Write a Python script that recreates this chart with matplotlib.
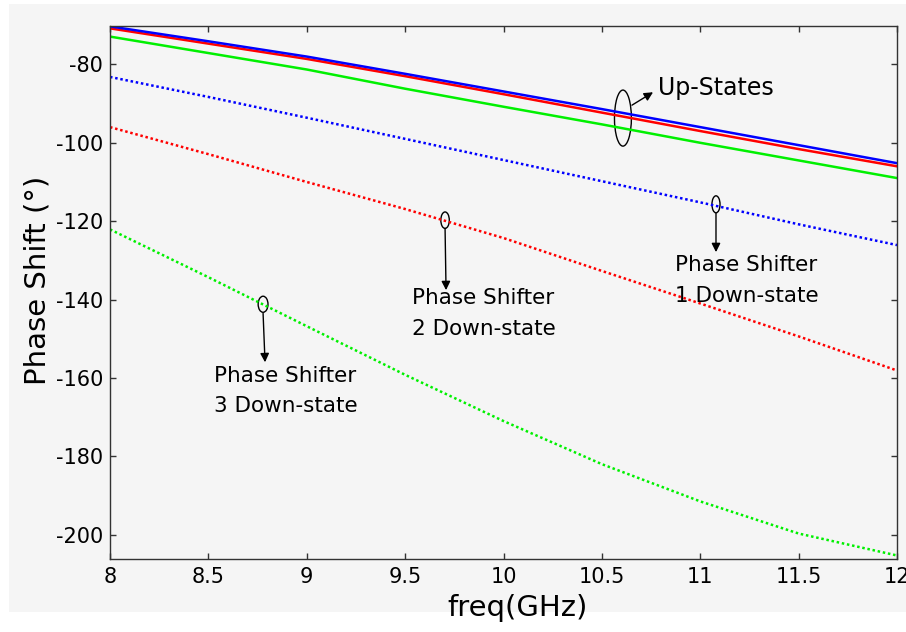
import matplotlib
matplotlib.use("Agg")
import matplotlib.pyplot as plt
from matplotlib.patches import Ellipse, Rectangle

plt.rcParams['font.family'] = ['DejaVu Sans']
plt.rcParams['axes.unicode_minus'] = False

# Frequency sweep (GHz)
freq = [8.0, 8.5, 9.0, 9.5, 10.0, 10.5, 11.0, 11.5, 12.0]

# Up-state phase (deg) of the three phase shifters
up_ps1 = [-70.3, -74.1, -78.0, -82.4, -86.9, -91.4, -96.0, -100.6, -105.2]
up_ps2 = [-70.8, -74.7, -78.6, -83.0, -87.6, -92.3, -97.0, -101.6, -106.0]
up_ps3 = [-72.9, -77.1, -81.3, -86.2, -90.8, -95.3, -100.0, -104.5, -109.0]

# Down-state phase (deg)
down_ps1 = [-83.2, -88.3, -93.6, -99.0, -104.4, -109.8, -115.2, -120.8, -126.1]
down_ps2 = [-96.0, -102.9, -110.0, -116.9, -124.3, -132.7, -141.0, -149.4, -158.1]
down_ps3 = [-122.1, -134.3, -146.8, -159.2, -171.0, -182.0, -191.5, -199.7, -205.3]

x_ticks = [8, 8.5, 9, 9.5, 10, 10.5, 11, 11.5, 12]
x_tick_labels = ['8', '8.5', '9', '9.5', '10', '10.5', '11', '11.5', '12']
y_ticks = [-200, -180, -160, -140, -120, -100, -80]

BLUE = '#0000ff'
RED = '#ff0000'
GREEN = '#00f000'
BG = '#f5f5f5'

fig = plt.figure(figsize=(9.06, 6.32), dpi=100)
fig.patch.set_facecolor('white')
fig.patches.append(Rectangle((9 / 906, 20 / 632), 897 / 906, 608 / 632,
                             transform=fig.transFigure, fc=BG, ec='none', zorder=-10))

ax = fig.add_axes([110 / 906, (632 - 559) / 632, 787 / 906, 533 / 632])
ax.set_zorder(5)
ax.set_facecolor(BG)

dot = (0, (1.0, 1.1))
ax.plot(freq, down_ps3, color=GREEN, lw=1.8, linestyle=dot)
ax.plot(freq, down_ps2, color=RED, lw=1.8, linestyle=dot)
ax.plot(freq, down_ps1, color=BLUE, lw=1.8, linestyle=dot)
ax.plot(freq, up_ps3, color=GREEN, lw=1.8)
ax.plot(freq, up_ps2, color=RED, lw=1.8)
ax.plot(freq, up_ps1, color=BLUE, lw=1.8)

ax.set_xlim(8, 12)
ax.set_ylim(-206.2, -70.2)
ax.set_xticks(x_ticks)
ax.set_xticklabels(x_tick_labels)
ax.set_yticks(y_ticks)

for s in ax.spines.values():
    s.set_color('#333333')
    s.set_linewidth(1.0)
ax.tick_params(direction='in', length=4.5, width=1.0, color='#333333',
               top=True, right=True, labelsize=15, labelcolor='black')
ax.tick_params(axis='x', pad=6)
ax.tick_params(axis='y', pad=5)

ax.set_xlabel('freq(GHz)', fontsize=21, va='center')
ax.set_ylabel('Phase Shift (°)', fontsize=21, va='center')
ax.xaxis.set_label_coords(0.518, -0.092)
ax.yaxis.set_label_coords(-0.0915, 0.523)

arrow = dict(arrowstyle='-|>', color='black', lw=1.0, mutation_scale=13,
             shrinkA=0, shrinkB=0)

# Up-states marker
ax.add_patch(Ellipse((10.607, -93.7), 0.086, 14.3, fill=False, ec='black', lw=1.0))
ax.annotate('', xy=(10.76, -87.1), xytext=(10.653, -90.4), arrowprops=arrow)
ax.text(10.785, -87.8, 'Up-States', fontsize=17, va='baseline', ha='left')

# Phase shifter 1 down-state
ax.add_patch(Ellipse((11.08, -115.7), 0.041, 4.34, fill=False, ec='black', lw=1.0))
ax.annotate('', xy=(11.08, -127.9), xytext=(11.08, -118.0), arrowprops=arrow)
ax.text(10.872, -132.8, 'Phase Shifter', fontsize=15.5, va='baseline', ha='left')
ax.text(10.872, -140.7, '1 Down-state', fontsize=15.5, va='baseline', ha='left')

# Phase shifter 2 down-state
ax.add_patch(Ellipse((9.703, -119.75), 0.043, 4.2, fill=False, ec='black', lw=1.0))
ax.annotate('', xy=(9.708, -137.6), xytext=(9.703, -121.8), arrowprops=arrow)
ax.text(9.535, -141.2, 'Phase Shifter', fontsize=15.5, va='baseline', ha='left')
ax.text(9.535, -149.1, '2 Down-state', fontsize=15.5, va='baseline', ha='left')

# Phase shifter 3 down-state
ax.add_patch(Ellipse((8.778, -141.2), 0.05, 4.1, fill=False, ec='black', lw=1.0))
ax.annotate('', xy=(8.788, -156.0), xytext=(8.778, -143.5), arrowprops=arrow)
ax.text(8.529, -161.1, 'Phase Shifter', fontsize=15.5, va='baseline', ha='left')
ax.text(8.529, -168.8, '3 Down-state', fontsize=15.5, va='baseline', ha='left')

fig.savefig('out.png', dpi=100, facecolor=fig.get_facecolor())
